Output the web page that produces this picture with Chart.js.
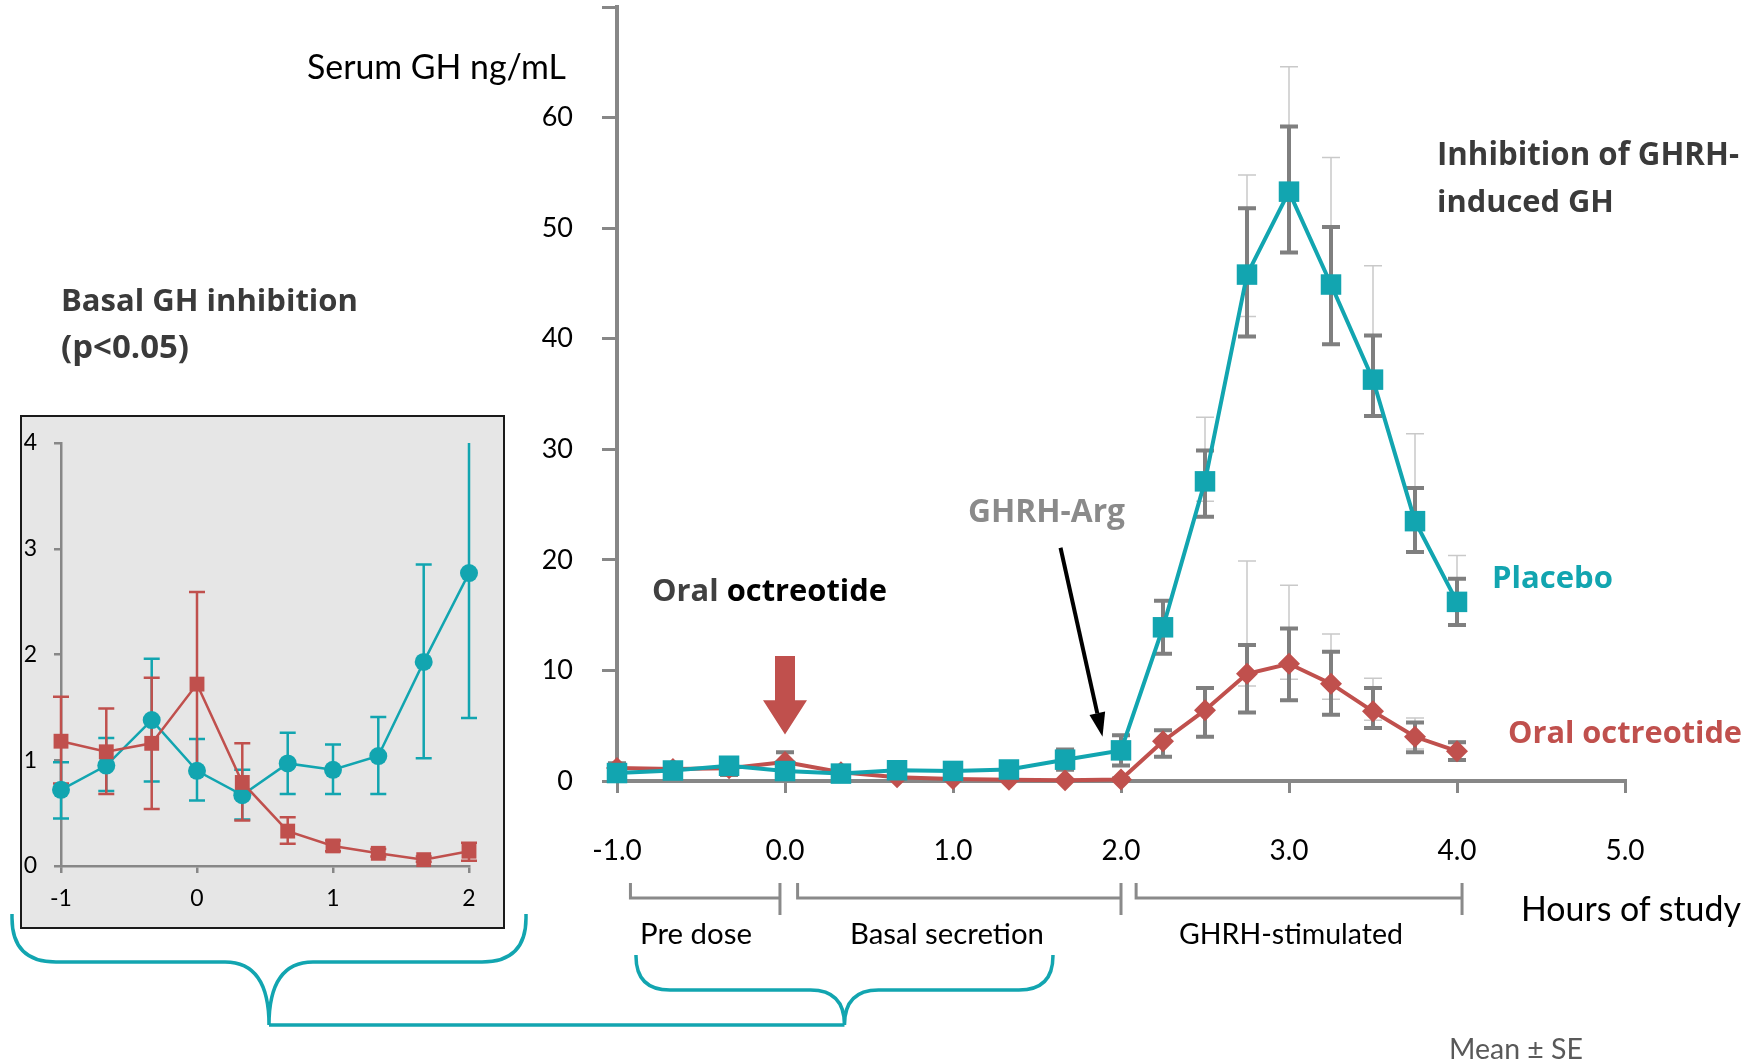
<!DOCTYPE html>
<html>
<head>
<meta charset="utf-8">
<script src="https://cdn.jsdelivr.net/npm/chart.js@4.4.1/dist/chart.umd.min.js"></script>
<style>
  html, body { margin:0; padding:0; background:#fff; }
  body { width:1750px; height:1063px; position:relative; overflow:hidden; }
  #main { position:absolute; left:0; top:0; }
  #insetBox { position:absolute; left:20px; top:415px; width:485px; height:514px; box-sizing:border-box;
              border:2px solid #1a1a1a; background:#e6e6e6; }
  #inset { position:absolute; left:0; top:0; }
  .t { position:absolute; white-space:nowrap; line-height:1; transform:translateY(-50%); font-family:Lato, sans-serif; color:#000; }
  .b { font-family:"Open Sans", sans-serif; font-weight:700; }
</style>
</head>
<body>
<canvas id="main" width="1750" height="1063"></canvas>
<div id="insetBox"><canvas id="inset" width="481" height="510"></canvas></div>

<div class="t" data-w="259" style="left:307px;top:67px;font-size:32px;">Serum GH ng/mL</div>
<div class="t b" data-w="302" style="left:1437px;top:154px;font-size:28px;color:#3a3a3a;">Inhibition of GHRH-</div>
<div class="t b" data-w="177" style="left:1437px;top:200px;font-size:28px;color:#3a3a3a;">induced GH</div>
<div class="t b" data-w="297" style="left:61px;top:300px;font-size:28px;color:#3a3a3a;">Basal GH inhibition</div>
<div class="t b" data-w="128" style="left:61px;top:346px;font-size:28px;color:#3a3a3a;">(p&lt;0.05)</div>
<div class="t b" data-w="235" style="left:652px;top:589px;font-size:28px;"><span style="color:#404040">Oral</span> <span style="color:#000">octreotide</span></div>
<div class="t b" data-w="157" style="left:968px;top:510px;font-size:28px;color:#8a8a8a;">GHRH-Arg</div>
<div class="t b" data-w="121" style="left:1492px;top:577px;font-size:28px;color:#12a5b0;">Placebo</div>
<div class="t b" data-w="234" style="left:1508px;top:731px;font-size:28px;color:#c0504d;">Oral octreotide</div>
<div class="t" data-w="112" data-cx="696" style="top:933px;font-size:26px;">Pre dose</div>
<div class="t" data-w="194" data-cx="947" style="top:933px;font-size:26px;">Basal secretion</div>
<div class="t" data-w="224" data-cx="1291" style="top:933px;font-size:26px;">GHRH-stimulated</div>
<div class="t" data-w="220" style="left:1521px;top:909px;font-size:34px;">Hours of study</div>
<div class="t" data-w="134" style="left:1449px;top:1048px;font-size:24px;color:#595959;">Mean ± SE</div>

<script>
// ---------------- DATA ----------------
const hours = [-1, -0.667, -0.333, 0, 0.333, 0.667, 1, 1.333, 1.667, 2, 2.25, 2.5, 2.75, 3, 3.25, 3.5, 3.75, 4];

const placeboGH  = [0.72, 0.95, 1.38, 0.90, 0.67, 0.97, 0.91, 1.04, 1.93, 2.77, 13.9, 27.1, 45.8, 53.3, 44.9, 36.3, 23.5, 16.2];
const placeboLo  = [0.45, 0.71, 0.80, 0.62, 0.44, 0.68, 0.68, 0.68, 1.02, 1.40, 11.5, 23.9, 40.2, 47.8, 39.5, 33.0, 20.7, 14.1];
const placeboHi  = [0.98, 1.21, 1.96, 1.20, 0.91, 1.26, 1.15, 1.41, 2.85, 4.14, 16.3, 29.9, 51.8, 59.2, 50.1, 40.3, 26.5, 18.3];
const placeboAltLo = [null, null, null, null, null, null, null, null, null, null, null, 25.3, 42.0, null, null, null, null, null];
const placeboAltHi = [null, null, null, null, null, null, null, null, null, null, null, 32.9, 54.8, 64.6, 56.4, 46.6, 31.4, 20.4];

const octreotideGH = [1.18, 1.08, 1.16, 1.72, 0.79, 0.33, 0.19, 0.12, 0.06, 0.14, 3.6, 6.4, 9.7, 10.6, 8.8, 6.3, 4.0, 2.7];
const octreotideLo = [0.78, 0.68, 0.54, 0.89, 0.43, 0.21, 0.14, 0.09, 0.04, 0.05, 2.2, 4.0, 6.2, 7.3, 6.0, 4.8, 2.6, 1.9];
const octreotideHi = [1.60, 1.49, 1.78, 2.59, 1.16, 0.46, 0.24, 0.16, 0.09, 0.22, 4.6, 8.4, 12.3, 13.8, 11.7, 8.4, 5.3, 3.5];
const octreotideAltLo = [null, null, null, null, null, null, null, null, null, null, null, null, 8.6, 9.2, 7.4, 5.5, 2.9, null];
const octreotideAltHi = [null, null, null, null, null, null, null, null, null, null, null, null, 19.9, 17.7, 13.3, 9.3, 5.7, 3.6];

const mainXLabels = ['-1.0', '0.0', '1.0', '2.0', '3.0', '4.0', '5.0'];
const mainYLabels = ['0', '10', '20', '30', '40', '50', '60', ''];
const insetXLabels = ['-1', '0', '1', '2'];
const insetYLabels = ['0', '1', '2', '3', '4'];
const basalCount = 10;   // inset shows the first 10 time points (-1 h to 2 h)

// --------------- STYLE ---------------
const TEAL = '#12a5b0', RED = '#c0504d', AXIS = '#878787', DARK = '#7f7f7f', LIGHT = '#c9c9c9';

function errorPlugin(sets) {
  return {
    id: 'errbars' + Math.random().toString(36).slice(2),
    beforeDatasetsDraw(chart) {
      const ctx = chart.ctx, xs = chart.scales.x, ys = chart.scales.y;
      sets.forEach(s => {
        ctx.save();
        ctx.strokeStyle = s.color; ctx.lineWidth = s.width; ctx.lineCap = 'butt';
        s.xs.forEach((h, i) => {
          const hi = s.hi[i]; if (hi == null) return;
          const lo = s.lo[i];
          const from = lo == null ? s.mid[i] : lo;
          const px = xs.getPixelForValue(h);
          const pHi = ys.getPixelForValue(Math.min(hi, ys.max));
          const pLo = ys.getPixelForValue(from);
          ctx.beginPath();
          ctx.moveTo(px, pLo); ctx.lineTo(px, pHi);
          if (hi <= ys.max) { ctx.moveTo(px - s.cap, pHi); ctx.lineTo(px + s.cap, pHi); }
          if (lo != null) { ctx.moveTo(px - s.cap, pLo); ctx.lineTo(px + s.cap, pLo); }
          ctx.stroke();
        });
        ctx.restore();
      });
    }
  };
}

function pts(xs, ys) { return xs.map((h, i) => ({ x: h, y: ys[i] })); }
function noPad(s) { s.paddingTop = 0; s.paddingBottom = 0; s.paddingLeft = 0; s.paddingRight = 0; }

// nudge layout padding so the plot area sits where the reference has it
function fitArea(chart, target) {
  const p = chart.config.options.layout.padding;
  for (let k = 0; k < 3; k++) {
    const ca = chart.chartArea;
    const d = [target.top - ca.top, target.left - ca.left, ca.right - target.right, ca.bottom - target.bottom];
    if (d.every(v => Math.abs(v) < 0.25)) break;
    p.top += d[0]; p.left += d[1]; p.right += d[2]; p.bottom += d[3];
    chart.update('none');
  }
}

// --------------- MAIN CHART ---------------
const decor = {
  id: 'decor',
  afterDatasetsDraw(chart) {
    const ctx = chart.ctx, X = chart.scales.x, Y = chart.scales.y;
    ctx.save();
    // red dosing arrow at t = 0
    const ax = X.getPixelForValue(0), aTop = Y.getPixelForValue(11.3), aNeck = Y.getPixelForValue(7.3), aTip = Y.getPixelForValue(4.2);
    ctx.fillStyle = RED;
    ctx.beginPath();
    ctx.moveTo(ax - 10, aTop); ctx.lineTo(ax + 10, aTop); ctx.lineTo(ax + 10, aNeck);
    ctx.lineTo(ax + 22, aNeck); ctx.lineTo(ax, aTip); ctx.lineTo(ax - 22, aNeck); ctx.lineTo(ax - 10, aNeck);
    ctx.closePath(); ctx.fill();
    // black GHRH-Arg arrow
    const sx = X.getPixelForValue(1.64), sy = Y.getPixelForValue(21.1);
    const tx = X.getPixelForValue(1.89), ty = Y.getPixelForValue(4.0);
    const ang = Math.atan2(ty - sy, tx - sx), hl = 24, hw = 8;
    const bx = tx - hl * Math.cos(ang), by = ty - hl * Math.sin(ang);
    ctx.strokeStyle = '#000'; ctx.lineWidth = 4;
    ctx.beginPath(); ctx.moveTo(sx, sy); ctx.lineTo(bx, by); ctx.stroke();
    ctx.fillStyle = '#000';
    ctx.beginPath(); ctx.moveTo(tx, ty);
    ctx.lineTo(bx + hw * Math.sin(ang), by - hw * Math.cos(ang));
    ctx.lineTo(bx - hw * Math.sin(ang), by + hw * Math.cos(ang));
    ctx.closePath(); ctx.fill();
    ctx.restore();
  },
  afterDraw(chart) {
    const ctx = chart.ctx, X = chart.scales.x;
    ctx.save();
    // grey phase brackets
    const yLine = 898, yTop = 883, yBot = 915;
    ctx.strokeStyle = '#8a8a8a'; ctx.lineWidth = 3;
    [[-0.92, -0.03], [0.075, 2.0], [2.09, 4.03]].forEach(([a, b]) => {
      const pa = X.getPixelForValue(a), pb = X.getPixelForValue(b);
      ctx.beginPath();
      ctx.moveTo(pa, yTop); ctx.lineTo(pa, yLine); ctx.lineTo(pb, yLine);
      ctx.moveTo(pb, yTop); ctx.lineTo(pb, yBot);
      ctx.stroke();
    });
    // teal braces
    ctx.strokeStyle = TEAL; ctx.lineWidth = 3.5;
    function brace(xl, xr, top, mid, bot, r) {
      const xc = (xl + xr) / 2;
      ctx.beginPath();
      ctx.moveTo(xl, top); ctx.lineTo(xl, mid - r);
      ctx.quadraticCurveTo(xl, mid, xl + r, mid);
      ctx.lineTo(xc - r, mid);
      ctx.quadraticCurveTo(xc, mid, xc, bot);
      ctx.moveTo(xr, top); ctx.lineTo(xr, mid - r);
      ctx.quadraticCurveTo(xr, mid, xr - r, mid);
      ctx.lineTo(xc + r, mid);
      ctx.quadraticCurveTo(xc, mid, xc, bot);
      ctx.stroke();
      return xc;
    }
    const c1 = brace(12, 526, 914, 962, 1025, 44);
    const c2 = brace(X.getPixelForValue(-0.887), X.getPixelForValue(1.595), 955, 990, 1025, 34);
    ctx.beginPath(); ctx.moveTo(c1, 1025); ctx.lineTo(c2, 1025); ctx.stroke();
    ctx.restore();
  }
};

const mainChart = new Chart(document.getElementById('main'), {
  type: 'line',
  data: {
    datasets: [
      { label: 'Placebo', data: pts(hours, placeboGH), borderColor: TEAL, backgroundColor: TEAL,
        borderWidth: 4, pointStyle: 'rect', pointRadius: 14.5, pointBorderWidth: 0, clip: false, tension: 0 },
      { label: 'Oral octreotide', data: pts(hours, octreotideGH), borderColor: RED, backgroundColor: RED,
        borderWidth: 4, pointStyle: 'rectRot', pointRadius: 11, pointBorderWidth: 0, clip: false, tension: 0 }
    ]
  },
  options: {
    responsive: false, animation: false, devicePixelRatio: 1,
    layout: { autoPadding: false, padding: { left: 0, right: 125, top: 7, bottom: 0 } },
    plugins: { legend: { display: false }, tooltip: { enabled: false } },
    scales: {
      x: { type: 'linear', min: -1, max: 5,
        ticks: { stepSize: 1, padding: 41, color: '#000', font: { family: 'Lato', size: 28 },
                 callback: (v, i) => mainXLabels[i] },
        grid: { drawOnChartArea: false, tickLength: 12, color: AXIS, lineWidth: 3 },
        border: { color: AXIS, width: 4 },
        afterFit: s => { s.height = 282; noPad(s); } },
      y: { type: 'linear', min: 0, max: 70,
        ticks: { stepSize: 10, padding: 29, color: '#000', font: { family: 'Lato', size: 27 },
                 callback: (v, i) => mainYLabels[i] },
        grid: { drawOnChartArea: false, tickLength: 15, color: AXIS, lineWidth: 3 },
        border: { color: AXIS, width: 4 },
        afterFit: s => { s.width = 617; noPad(s); } }
    }
  },
  plugins: [
    errorPlugin([
      { xs: hours, lo: placeboAltLo, hi: placeboAltHi, mid: placeboGH, color: LIGHT, width: 1.5, cap: 9 },
      { xs: hours, lo: octreotideAltLo, hi: octreotideAltHi, mid: octreotideGH, color: LIGHT, width: 1.5, cap: 9 },
      { xs: hours, lo: placeboLo, hi: placeboHi, mid: placeboGH, color: DARK, width: 4, cap: 9 },
      { xs: hours, lo: octreotideLo, hi: octreotideHi, mid: octreotideGH, color: DARK, width: 4, cap: 9 }
    ]),
    decor
  ]
});
fitArea(mainChart, { left: 617, right: 1625, top: 7, bottom: 781 });

// --------------- INSET CHART ---------------
const bh = hours.slice(0, basalCount);
const insetChart = new Chart(document.getElementById('inset'), {
  type: 'line',
  data: {
    datasets: [
      { label: 'Oral octreotide', data: pts(bh, octreotideGH.slice(0, basalCount)), borderColor: RED, backgroundColor: RED,
        borderWidth: 2.5, pointStyle: 'rect', pointRadius: 10.5, pointBorderWidth: 0, clip: false, tension: 0 },
      { label: 'Placebo', data: pts(bh, placeboGH.slice(0, basalCount)), borderColor: TEAL, backgroundColor: TEAL,
        borderWidth: 2.5, pointStyle: 'circle', pointRadius: 9, pointBorderWidth: 0, clip: false, tension: 0 }
    ]
  },
  options: {
    responsive: false, animation: false, devicePixelRatio: 1,
    layout: { autoPadding: false, padding: { left: 0, right: 34, top: 26, bottom: 0 } },
    plugins: { legend: { display: false }, tooltip: { enabled: false } },
    scales: {
      x: { type: 'linear', min: -1, max: 2,
        ticks: { stepSize: 1, padding: 12, color: '#000', font: { family: 'Lato', size: 23 },
                 callback: (v, i) => insetXLabels[i] },
        grid: { drawOnChartArea: false, tickLength: 7, color: AXIS, lineWidth: 2.5 },
        border: { color: AXIS, width: 2.5 },
        afterFit: s => { s.height = 61; noPad(s); } },
      y: { type: 'linear', min: 0, max: 4,
        ticks: { stepSize: 1, padding: 17, color: '#000', font: { family: 'Lato', size: 23 },
                 callback: (v, i) => insetYLabels[i] },
        grid: { drawOnChartArea: false, tickLength: 7, color: AXIS, lineWidth: 2.5 },
        border: { color: AXIS, width: 2.5 },
        afterFit: s => { s.width = 39; noPad(s); } }
    }
  },
  plugins: [
    errorPlugin([
      { xs: bh, lo: placeboLo, hi: placeboHi, mid: placeboGH, color: TEAL, width: 2.5, cap: 8 },
      { xs: bh, lo: octreotideLo, hi: octreotideHi, mid: octreotideGH, color: RED, width: 2.5, cap: 8 }
    ])
  ]
});
fitArea(insetChart, { left: 39, right: 447, top: 26, bottom: 449 });

// --------------- fit annotation text widths ---------------
document.querySelectorAll('.t[data-w]').forEach(el => {
  const target = parseFloat(el.dataset.w);
  const fs = parseFloat(getComputedStyle(el).fontSize);
  const w = el.getBoundingClientRect().width;
  el.style.fontSize = (fs * target / w).toFixed(2) + 'px';
  if (el.dataset.cx) {
    const w2 = el.getBoundingClientRect().width;
    el.style.left = (parseFloat(el.dataset.cx) - w2 / 2) + 'px';
  }
});
</script>
</body>
</html>
